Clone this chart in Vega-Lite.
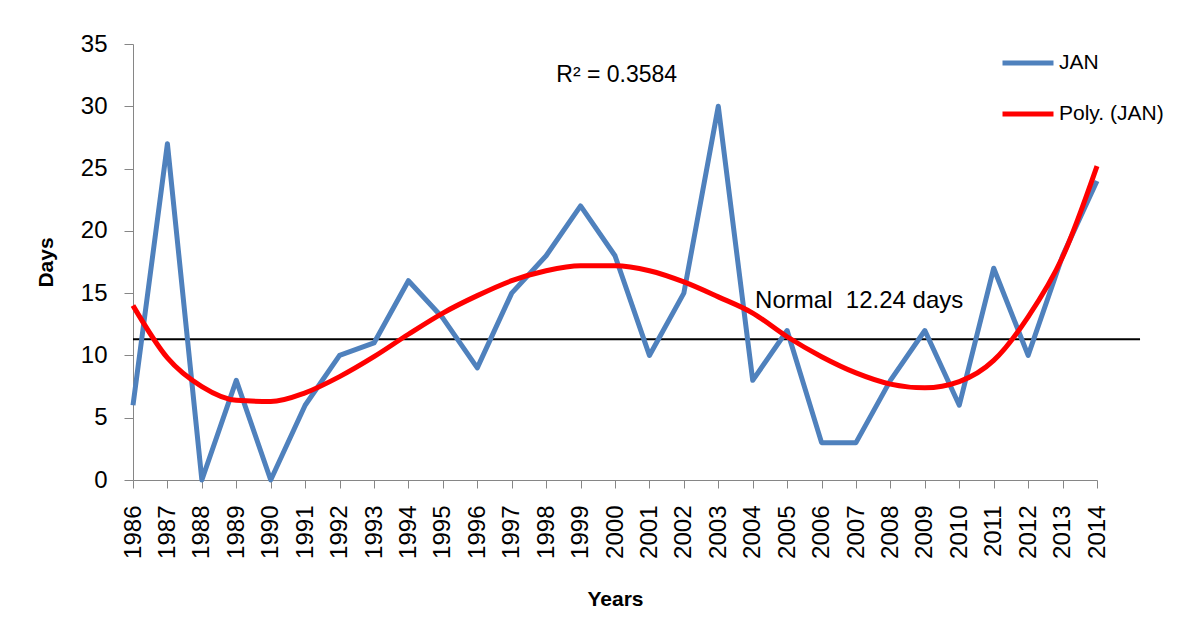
{
  "$schema": "https://vega.github.io/schema/vega-lite/v6.json",
  "width": 964,
  "height": 436,
  "autosize": "none",
  "padding": {"left": 133, "top": 44, "right": 106, "bottom": 143},
  "background": "white",
  "config": {
    "view": {"stroke": null},
    "font": "Liberation Sans",
    "axis": {"grid": false, "domainColor": "#868686", "tickColor": "#868686", "labelColor": "#000000", "titleColor": "#000000", "labelFont": "Liberation Sans", "titleFont": "Liberation Sans"}
  },
  "datasets": {
    "jan": [
      {"year": 1986, "days": 6, "series": "JAN"},
      {"year": 1987, "days": 27, "series": "JAN"},
      {"year": 1988, "days": 0, "series": "JAN"},
      {"year": 1989, "days": 8, "series": "JAN"},
      {"year": 1990, "days": 0, "series": "JAN"},
      {"year": 1991, "days": 6, "series": "JAN"},
      {"year": 1992, "days": 10, "series": "JAN"},
      {"year": 1993, "days": 11, "series": "JAN"},
      {"year": 1994, "days": 16, "series": "JAN"},
      {"year": 1995, "days": 13, "series": "JAN"},
      {"year": 1996, "days": 9, "series": "JAN"},
      {"year": 1997, "days": 15, "series": "JAN"},
      {"year": 1998, "days": 18, "series": "JAN"},
      {"year": 1999, "days": 22, "series": "JAN"},
      {"year": 2000, "days": 18, "series": "JAN"},
      {"year": 2001, "days": 10, "series": "JAN"},
      {"year": 2002, "days": 15, "series": "JAN"},
      {"year": 2003, "days": 30, "series": "JAN"},
      {"year": 2004, "days": 8, "series": "JAN"},
      {"year": 2005, "days": 12, "series": "JAN"},
      {"year": 2006, "days": 3, "series": "JAN"},
      {"year": 2007, "days": 3, "series": "JAN"},
      {"year": 2008, "days": 8, "series": "JAN"},
      {"year": 2009, "days": 12, "series": "JAN"},
      {"year": 2010, "days": 6, "series": "JAN"},
      {"year": 2011, "days": 17, "series": "JAN"},
      {"year": 2012, "days": 10, "series": "JAN"},
      {"year": 2013, "days": 18, "series": "JAN"},
      {"year": 2014, "days": 24, "series": "JAN"}
    ],
    "poly": [
      {"year": 1986, "days": 14.0, "series": "Poly. (JAN)"},
      {"year": 1987, "days": 9.8, "series": "Poly. (JAN)"},
      {"year": 1988, "days": 7.5, "series": "Poly. (JAN)"},
      {"year": 1989, "days": 6.4, "series": "Poly. (JAN)"},
      {"year": 1990, "days": 6.3, "series": "Poly. (JAN)"},
      {"year": 1991, "days": 7.0, "series": "Poly. (JAN)"},
      {"year": 1992, "days": 8.3, "series": "Poly. (JAN)"},
      {"year": 1993, "days": 9.9, "series": "Poly. (JAN)"},
      {"year": 1994, "days": 11.7, "series": "Poly. (JAN)"},
      {"year": 1995, "days": 13.4, "series": "Poly. (JAN)"},
      {"year": 1996, "days": 14.8, "series": "Poly. (JAN)"},
      {"year": 1997, "days": 16.0, "series": "Poly. (JAN)"},
      {"year": 1998, "days": 16.8, "series": "Poly. (JAN)"},
      {"year": 1999, "days": 17.2, "series": "Poly. (JAN)"},
      {"year": 2000, "days": 17.2, "series": "Poly. (JAN)"},
      {"year": 2001, "days": 16.8, "series": "Poly. (JAN)"},
      {"year": 2002, "days": 15.9, "series": "Poly. (JAN)"},
      {"year": 2003, "days": 14.7, "series": "Poly. (JAN)"},
      {"year": 2004, "days": 13.4, "series": "Poly. (JAN)"},
      {"year": 2005, "days": 11.5, "series": "Poly. (JAN)"},
      {"year": 2006, "days": 9.9, "series": "Poly. (JAN)"},
      {"year": 2007, "days": 8.6, "series": "Poly. (JAN)"},
      {"year": 2008, "days": 7.7, "series": "Poly. (JAN)"},
      {"year": 2009, "days": 7.4, "series": "Poly. (JAN)"},
      {"year": 2010, "days": 7.9, "series": "Poly. (JAN)"},
      {"year": 2011, "days": 9.6, "series": "Poly. (JAN)"},
      {"year": 2012, "days": 13.1, "series": "Poly. (JAN)"},
      {"year": 2013, "days": 17.9, "series": "Poly. (JAN)"},
      {"year": 2014, "days": 25.2, "series": "Poly. (JAN)"}
    ],
    "normal": [{"year": 1986, "year2": 2015.25, "days": 11.3}],
    "r2": [{"year": 2000.05, "days": 32.5, "label": "R² = 0.3584"}],
    "normlabel": [{"year": 2004.07, "days": 14.4, "label": "Normal\u00a0\u00a012.24 days"}]
  },
  "encoding": {
    "x": {"field": "year", "type": "quantitative", "scale": {"domain": [1986, 2014], "nice": false, "zero": false},
      "axis": {"title": "Years", "values": [1986,1987,1988,1989,1990,1991,1992,1993,1994,1995,1996,1997,1998,1999,2000,2001,2002,2003,2004,2005,2006,2007,2008,2009,2010,2011,2012,2013,2014], "tickCount": 29, "format": "d", "labelAngle": 270, "labelAlign": "right", "labelBaseline": "middle", "labelFontSize": 24, "tickSize": 8, "labelPadding": 17, "titleFontSize": 21, "titleFontWeight": "bold", "titlePadding": 30, "labelOverlap": false, "labelBound": false}},
    "y": {"field": "days", "type": "quantitative", "scale": {"domain": [0, 35], "nice": false},
      "axis": {"title": "Days", "values": [0, 5, 10, 15, 20, 25, 30, 35], "labelFontSize": 24, "tickSize": 9, "labelPadding": 17, "titleFontSize": 21, "titleFontWeight": "bold", "titlePadding": 24}}
  },
  "layer": [
    {
      "data": {"name": "normal"},
      "mark": {"type": "rule", "color": "#000000", "strokeWidth": 2},
      "encoding": {
        "x2": {"field": "year2"}
      }
    },
    {
      "data": {"name": "jan"},
      "mark": {"type": "line", "strokeWidth": 5, "interpolate": "linear", "strokeJoin": "round"},
      "encoding": {
        "color": {"field": "series", "type": "nominal",
          "scale": {"domain": ["JAN", "Poly. (JAN)"], "range": ["#4F81BD", "#FF0000"]},
          "legend": {"title": null, "orient": "none", "legendX": 867, "legendY": -9, "symbolType": "stroke", "symbolSize": 2600, "symbolStrokeWidth": 5, "labelFontSize": 21, "labelOffset": 3, "labelColor": "#000000", "rowPadding": 13}}
      }
    },
    {
      "data": {"name": "poly"},
      "mark": {"type": "line", "strokeWidth": 5, "interpolate": "monotone"},
      "encoding": {
        "color": {"field": "series", "type": "nominal"}
      }
    },
    {
      "data": {"name": "r2"},
      "mark": {"type": "text", "fontSize": 23, "color": "#000000", "baseline": "middle", "align": "center"},
      "encoding": {
        "text": {"field": "label"}
      }
    },
    {
      "data": {"name": "normlabel"},
      "mark": {"type": "text", "fontSize": 24, "color": "#000000", "baseline": "middle", "align": "left"},
      "encoding": {
        "text": {"field": "label"}
      }
    }
  ]
}
